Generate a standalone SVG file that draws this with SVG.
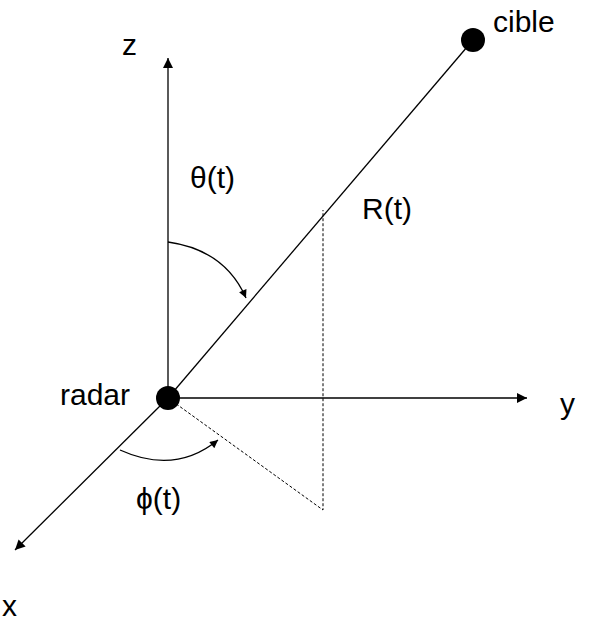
<svg xmlns="http://www.w3.org/2000/svg" width="606" height="623" viewBox="0 0 606 623">
<style>
text{font-family:"Liberation Sans",Arial,sans-serif;font-size:30px;fill:#000}
.l{stroke:#000;stroke-width:1.3;fill:none}
.d{stroke:#000;stroke-width:1;fill:none;stroke-dasharray:3,2}
</style>
<defs>
<marker id="a" viewBox="0 0 10 10" refX="10" refY="5" markerWidth="14" markerHeight="10" markerUnits="userSpaceOnUse" orient="auto"><path d="M0,0L10,5L0,10z" fill="#000"/></marker>
<marker id="s" viewBox="0 0 10 10" refX="10" refY="5" markerWidth="10" markerHeight="8" markerUnits="userSpaceOnUse" orient="auto"><path d="M0,0L10,5L0,10z" fill="#000"/></marker>
</defs>
<rect width="606" height="623" fill="#fff"/>
<g id="connectors">
<line class="l" x1="168" y1="398" x2="168" y2="58" marker-end="url(#a)"/>
<line class="l" x1="168" y1="398" x2="527" y2="398" marker-end="url(#a)"/>
<line class="l" x1="168" y1="398" x2="15" y2="550" marker-end="url(#a)"/>
<line class="l" x1="168" y1="398" x2="473" y2="40"/>
<path class="d" d="M168,398L323,510L323,210"/>
<path class="l" d="M168,242Q225,250 246,298" marker-end="url(#s)"/>
<path class="l" d="M120,450Q175,475 218,440" marker-end="url(#s)"/>
</g>
<g id="radar"><circle cx="168" cy="398" r="12"/><text x="60" y="405">radar</text></g>
<g id="cible"><circle cx="473" cy="40" r="12"/><text x="493" y="32">cible</text></g>
<g id="labels">
<text x="122" y="55">z</text>
<text x="560" y="414">y</text>
<text x="2" y="616">x</text>
<text x="190" y="188">θ(t)</text>
<text x="362" y="219">R(t)</text>
<text x="136" y="509">ϕ(t)</text>
</g>
</svg>
